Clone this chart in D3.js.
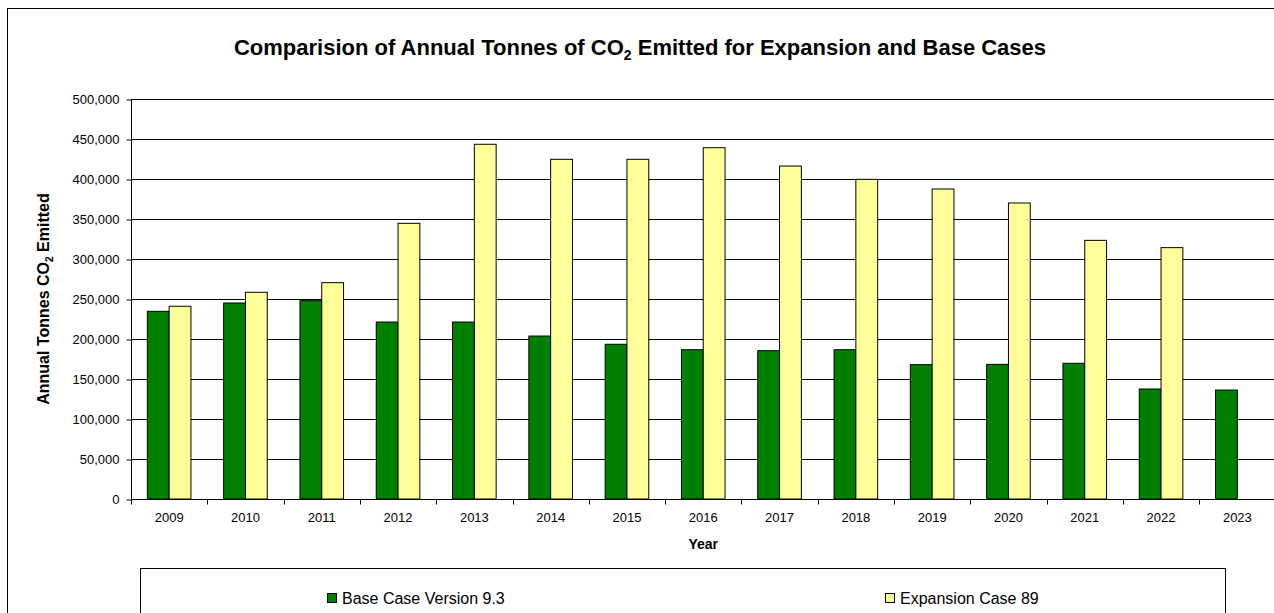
<!doctype html>
<html>
<head>
	<script src="https://d3js.org/d3.v7.min.js"></script>
	<style>
		body { margin: 0; background: #fff; }
		text { font-family: "Liberation Sans", Arial, sans-serif; fill: #000; }
	</style>
</head>
<body>
	<svg id="chart" width="1274" height="613"></svg>
	<script>

		var years = ["2009", "2010", "2011", "2012", "2013", "2014", "2015", "2016",
		             "2017", "2018", "2019", "2020", "2021", "2022", "2023"];
		var baseCase = [234600, 245000, 247900, 221200, 221200, 203700, 193400, 186600,
		                185400, 186600, 167900, 168300, 169600, 137500, 136200];
		var expansionCase = [240900, 258400, 270400, 344600, 443400, 424600, 424600, 439100,
		                     416200, 399600, 387500, 370000, 323300, 314200, null];
		var seriesNames = ["Base Case Version 9.3", "Expansion Case 89"];
		var seriesColors = ["#008000", "#FFFF99"];
		var yTicks = [0, 50000, 100000, 150000, 200000, 250000, 300000, 350000, 400000, 450000, 500000];

		var svg = d3.select("#chart");
		var margin = {top: 99, left: 131, bottom: 499, right: 1275.5};

		// chart border (runs off the right and bottom edge in the original)
		svg.append("rect")
			.attr("x", 7.5).attr("y", 8.5)
			.attr("width", 1400).attr("height", 800)
			.attr("fill", "#fff").attr("stroke", "#000").attr("stroke-width", 1);

		var xScale = d3.scaleBand()
			.domain(years)
			.range([margin.left, margin.right]);

		var inner = d3.scaleBand()
			.domain([0, 1])
			.range([0, xScale.bandwidth()])
			.paddingInner(0)
			.paddingOuter(0.75);

		var yScale = d3.scaleLinear()
			.domain([0, 500000])
			.range([margin.bottom, margin.top]);

		// gridlines
		svg.append("g")
			.selectAll("line")
			.data(yTicks)
			.enter()
			.append("line")
				.attr("x1", margin.left).attr("x2", margin.right)
				.attr("y1", d => Math.round(yScale(d)) + 0.5)
				.attr("y2", d => Math.round(yScale(d)) + 0.5)
				.attr("stroke", "#000").attr("stroke-width", 1);

		// bars
		var rows = years.map((y, i) => ({year: y, vals: [baseCase[i], expansionCase[i]]}));

		var groups = svg.append("g")
			.selectAll("g")
			.data(rows)
			.enter()
			.append("g")
				.attr("transform", d => "translate(" + xScale(d.year) + ",0)");

		groups.selectAll("rect")
			.data(d => d.vals.map((v, k) => ({k: k, v: v})).filter(e => e.v != null))
			.enter()
			.append("rect")
				.attr("x", d => inner(d.k))
				.attr("width", inner.bandwidth())
				.attr("y", d => yScale(d.v))
				.attr("height", d => yScale(0) - yScale(d.v))
				.attr("fill", d => seriesColors[d.k])
				.attr("stroke", "#000").attr("stroke-width", 1);

		// axes
		var yAxis = d3.axisLeft(yScale)
			.tickValues(yTicks)
			.tickFormat(d3.format(","))
			.tickSize(5)
			.tickPadding(7);

		var yAxisG = svg.append("g")
			.attr("transform", "translate(" + (margin.left + 0.5) + ",0.5)")
			.call(yAxis);
		yAxisG.select(".domain").attr("d", "M0," + (margin.top - 0.5) + "V" + (margin.bottom - 0.5));
		yAxisG.selectAll("text").style("font-size", "13px").style("font-family", "Liberation Sans, Arial, sans-serif");
		yAxisG.selectAll("line, path").attr("stroke", "#000");

		var xAxis = d3.axisBottom(xScale)
			.tickSize(0)
			.tickPadding(13);

		var xAxisG = svg.append("g")
			.attr("transform", "translate(0," + (Math.round(margin.bottom) + 0.5) + ")")
			.call(xAxis);
		xAxisG.select(".domain").remove();
		xAxisG.selectAll("text").style("font-size", "13px").style("font-family", "Liberation Sans, Arial, sans-serif");

		xAxisG.append("line")
			.attr("x1", margin.left).attr("x2", margin.right)
			.attr("stroke", "#000");

		// category boundary ticks
		xAxisG.selectAll(".sep")
			.data(years)
			.enter()
			.append("line")
				.attr("class", "sep")
				.attr("x1", d => Math.round(xScale(d)) + 0.5)
				.attr("x2", d => Math.round(xScale(d)) + 0.5)
				.attr("y1", 0).attr("y2", 5)
				.attr("stroke", "#000");

		// title
		var title = svg.append("text")
			.attr("x", 640).attr("y", 55)
			.attr("text-anchor", "middle")
			.style("font-size", "22px").style("font-weight", "bold");
		title.append("tspan").text("Comparision of Annual Tonnes of CO");
		title.append("tspan").text("2").style("font-size", "14px").attr("dy", 5);
		title.append("tspan").text(" Emitted for Expansion and Base Cases").attr("dy", -5);

		// axis titles
		var yTitle = svg.append("text")
			.attr("transform", "translate(49," + ((margin.top + margin.bottom) / 2) + ") rotate(-90)")
			.attr("text-anchor", "middle")
			.style("font-size", "16px").style("font-weight", "bold");
		yTitle.append("tspan").text("Annual Tonnes CO");
		yTitle.append("tspan").text("2").style("font-size", "10px").attr("dy", 4);
		yTitle.append("tspan").text(" Emitted").attr("dy", -4);

		svg.append("text")
			.attr("x", (margin.left + margin.right) / 2).attr("y", 549)
			.attr("text-anchor", "middle")
			.style("font-size", "14px").style("font-weight", "bold")
			.text("Year");

		// legend (its lower edge is cut off by the picture edge)
		var legend = svg.append("g");
		legend.append("rect")
			.attr("x", 140.5).attr("y", 568.5)
			.attr("width", 1085).attr("height", 80)
			.attr("fill", "#fff").attr("stroke", "#000");

		var legendX = [327, 885];
		var items = legend.selectAll(".item")
			.data(seriesNames)
			.enter()
			.append("g")
				.attr("class", "item")
				.attr("transform", (d, i) => "translate(" + legendX[i] + ",598)");
		items.append("rect")
			.attr("x", 0.5).attr("y", -4.5)
			.attr("width", 9).attr("height", 9)
			.attr("fill", (d, i) => seriesColors[i])
			.attr("stroke", "#000");
		items.append("text")
			.attr("x", 15).attr("y", 6)
			.style("font-size", "16px")
			.text(d => d);

	</script>
</body>
</html>
